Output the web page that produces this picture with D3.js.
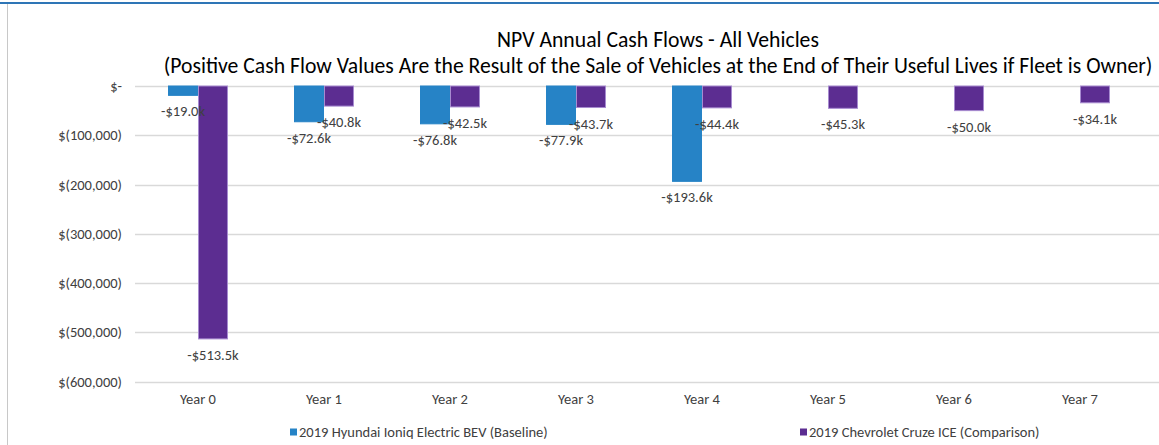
<!DOCTYPE html>
<html>
<head>
<meta charset="utf-8">
<script src="https://cdn.jsdelivr.net/npm/d3@7"></script>
<style>
  body { margin: 0; background: #fff; }
  svg { display: block; font-family: Calibri, Carlito, "Liberation Sans", sans-serif; }
</style>
</head>
<body>
<svg id="chart"></svg>
<script>
// chart data
var years = ["Year 0", "Year 1", "Year 2", "Year 3", "Year 4", "Year 5", "Year 6", "Year 7"];
var seriesNames = ["2019 Hyundai Ioniq Electric BEV (Baseline)", "2019 Chevrolet Cruze ICE (Comparison)"];
var ioniqValues = [-19.0, -72.6, -76.8, -77.9, -193.6, null, null, null]; // $k
var cruzeValues = [-513.5, -40.8, -42.5, -43.7, -44.4, -45.3, -50.0, -34.1]; // $k
var yTicks = [0, -100000, -200000, -300000, -400000, -500000, -600000];
var titleLines = ["NPV Annual Cash Flows - All Vehicles",
  "(Positive Cash Flow Values Are the Result of the Sale of Vehicles at the End of Their Useful Lives if Fleet is Owner)"];

var width = 1159, height = 445;
var plot = { left: 135, right: 1143, top: 86, bottom: 381.5 };
var colors = ["#2683c6", "#5c2d91"];
var strokes = ["#2683c6", "#a78bd0"];
var labelFont = "14.5px";

var svg = d3.select("#chart").attr("width", width).attr("height", height);

// frame: blue line on top, grey edge on the left
svg.append("line").attr("x1", 0).attr("x2", width).attr("y1", 3).attr("y2", 3)
  .attr("stroke", "#2e75b6").attr("stroke-width", 2);
svg.append("line").attr("x1", 7.5).attr("x2", 7.5).attr("y1", 4).attr("y2", height)
  .attr("stroke", "#c8c8c8").attr("stroke-width", 1);

// title
svg.selectAll(".title").data(titleLines).enter().append("text")
  .attr("class", "title")
  .attr("x", 658)
  .attr("y", (d, i) => 47 + i * 26)
  .attr("text-anchor", "middle")
  .attr("font-size", "21.7px")
  .attr("fill", "#000")
  .text(d => d);

// scales
var x0 = d3.scaleBand().domain(years).range([plot.left, plot.right])
  .paddingInner(0.524).paddingOuter(0.262);
var x1 = d3.scaleBand().domain([0, 1]).range([0, x0.bandwidth()]);
var y = d3.scaleLinear().domain([-600000, 0]).range([plot.bottom, plot.top]);

// grid
svg.append("g").selectAll("line").data(yTicks).enter().append("line")
  .attr("x1", plot.left).attr("x2", width)
  .attr("y1", d => Math.round(y(d)) + 0.5).attr("y2", d => Math.round(y(d)) + 0.5)
  .attr("stroke", "#d9d9d9").attr("stroke-width", 1.5);

// y axis labels
var fmt = function (v) {
  if (v === 0) return "$-";
  return "$(" + d3.format(",")(Math.abs(v)) + ")";
};
var yAxis = d3.axisLeft(y).tickValues(yTicks).tickFormat(fmt).tickSize(0).tickPadding(0);
var gy = svg.append("g").attr("transform", "translate(122,0)").call(yAxis);
gy.select(".domain").remove();
gy.selectAll("text").attr("font-size", labelFont).attr("fill", "#404040")
  .attr("font-family", "Calibri, Carlito, 'Liberation Sans', sans-serif");

// x axis labels
var xAxis = d3.axisBottom(x0).tickSize(0).tickPadding(0);
var gx = svg.append("g").attr("transform", "translate(0,394)").call(xAxis);
gx.select(".domain").remove();
gx.selectAll("text").attr("font-size", labelFont).attr("fill", "#404040")
  .attr("font-family", "Calibri, Carlito, 'Liberation Sans', sans-serif");

// bars
var rows = [];
years.forEach(function (yr, i) {
  [ioniqValues[i], cruzeValues[i]].forEach(function (v, s) {
    if (v !== null) rows.push({ year: yr, s: s, v: v });
  });
});

svg.append("g").selectAll("rect").data(rows).enter().append("rect")
  .attr("x", d => x0(d.year) + x1(d.s) + 0.5)
  .attr("width", x1.bandwidth() - 1)
  .attr("y", y(0))
  .attr("height", d => y(d.v * 1000) - y(0))
  .attr("fill", d => colors[d.s])
  .attr("stroke", d => strokes[d.s])
  .attr("stroke-width", 1);

// data labels
svg.append("g").selectAll("text").data(rows).enter().append("text")
  .attr("x", d => x0(d.year) + x1(d.s) + x1.bandwidth() / 2)
  .attr("y", d => y(d.v * 1000) + 21)
  .attr("text-anchor", "middle")
  .attr("font-size", labelFont)
  .attr("fill", "#404040")
  .text(d => "-$" + d3.format(".1f")(Math.abs(d.v)) + "k");

// legend
var legendX = [290, 800];
var lg = svg.append("g").selectAll("g").data(seriesNames).enter().append("g")
  .attr("transform", (d, i) => "translate(" + legendX[i] + ",432)");
lg.append("rect").attr("x", 0).attr("y", -3.5).attr("width", 7).attr("height", 7)
  .attr("fill", (d, i) => colors[i]);
lg.append("text").attr("x", 9).attr("y", 5)
  .attr("font-size", labelFont).attr("fill", "#404040")
  .text(d => d);
</script>
</body>
</html>
